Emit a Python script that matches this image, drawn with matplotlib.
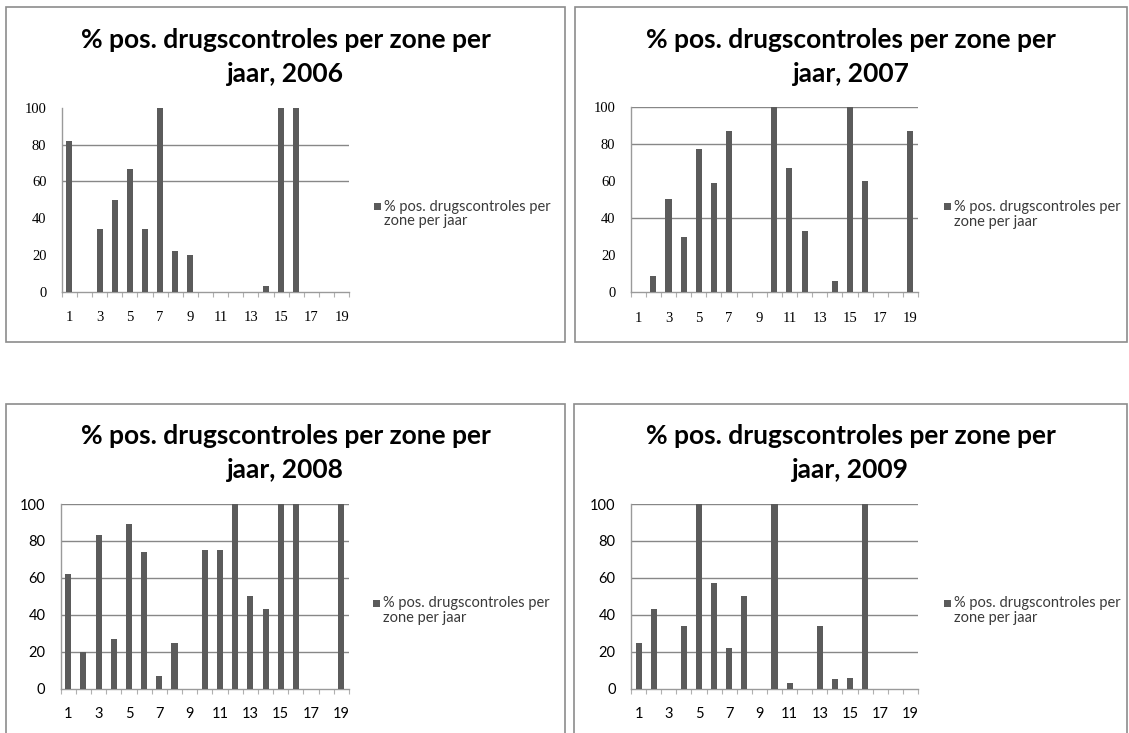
import matplotlib
matplotlib.use("Agg")
import matplotlib.pyplot as plt
from matplotlib.patches import Rectangle
import numpy as np

# ---------------- data ----------------
zones = list(range(1, 20))
tick_labels = [str(z) for z in zones if z % 2 == 1]
years = ["2006", "2007", "2008", "2009"]

pct_2006 = [82, 0, 34, 50, 67, 34, 100, 22, 20, 0, 0, 0, 0, 3, 100, 100, 0, 0, 0]
pct_2007 = [0, 9, 50, 30, 77, 59, 87, 0, 0, 100, 67, 33, 0, 6, 100, 60, 0, 0, 87]
pct_2008 = [62, 20, 83, 27, 89, 74, 7, 25, 0, 75, 75, 100, 50, 43, 100, 100, 0, 0, 100]
pct_2009 = [25, 43, 0, 34, 100, 57, 22, 50, 0, 100, 3, 0, 34, 5, 6, 100, 0, 0, 0]

grid_2006 = [60, 80]
grid_2007 = [40, 80, 100]
grid_2008 = [20, 40, 60, 80, 100]
grid_2009 = [20, 40, 60, 80, 100]

title_line1 = "% pos. drugscontroles per zone per"
title_line2 = "jaar, {}"
legend_line1 = "% pos. drugscontroles per"
legend_line2 = "zone per jaar"

# ---------------- layout ----------------
W, H = 1129, 733
fig = plt.figure(figsize=(W / 100, H / 100), dpi=100)

def fx(x):
    return x / W

def fy(y):
    return 1 - y / H

BAR = "#5b5b5b"
GRID = "#878787"
BORDER = "#8c8c8c"
AXC = "#9a9a9a"

panels = [
    # box(l,t,r,b), axes(l,t,r,b), title line-1 centre y, series, grid, tick font, x pad, legend dx
    ((6, 7, 565, 342), (61.7, 107.7, 349.3, 292.0), 40, pct_2006, grid_2006, "Liberation Serif", years[0], 14, 312),
    ((575, 7, 1127, 342), (630.7, 106.7, 918.0, 292.3), 40, pct_2007, grid_2007, "Liberation Serif", years[1], 14, 313),
    ((6, 404, 565, 760), (60.7, 504.0, 349.0, 688.7), 436, pct_2008, grid_2008, "Lato", years[2], 13, 312),
    ((574, 404, 1127, 760), (631.0, 504.0, 918.0, 688.7), 436, pct_2009, grid_2009, "Lato", years[3], 13, 313),
]

for box, axp, ty, vals, grid, tfont, yr, xpad, ldx in panels:
    bl, bt, br, bb = box
    fig.patches.append(Rectangle((fx(bl), fy(bb)), fx(br - bl), (bb - bt) / H,
                                 transform=fig.transFigure, fill=False,
                                 edgecolor=BORDER, linewidth=1.2, zorder=0))
    cx = (bl + br) / 2
    fig.text(fx(cx), fy(ty), title_line1, ha="center", va="center",
             fontsize=19, fontweight="bold", family="Lato", color="black")
    fig.text(fx(cx), fy(ty + 34), title_line2.format(yr), ha="center", va="center",
             fontsize=19, fontweight="bold", family="Lato", color="black")

    al, at, ar, ab = axp
    ax = fig.add_axes([fx(al), fy(ab), fx(ar - al), (ab - at) / H])
    ax.set_facecolor("none")
    ax.bar(zones, vals, width=0.40, color=BAR, zorder=3)
    ax.set_xlim(0.5, 19.5)
    ax.set_ylim(0, 100)
    for g in grid:
        ax.axhline(g, color=GRID, linewidth=1.0, zorder=1)
    for s in ["top", "right"]:
        ax.spines[s].set_visible(False)
    ax.spines["left"].set_color(AXC)
    ax.spines["bottom"].set_color(AXC)
    ax.spines["left"].set_linewidth(1.0)
    ax.spines["bottom"].set_linewidth(1.0)

    fs = 10.5
    ax.set_yticks([0, 20, 40, 60, 80, 100])
    ax.set_yticklabels(["0", "20", "40", "60", "80", "100"], family=tfont, fontsize=fs)
    ax.tick_params(axis="y", length=0, pad=11)

    ax.set_xticks(np.arange(0.5, 20, 1.0))
    ax.set_xticklabels([])
    ax.tick_params(axis="x", which="major", length=3.5, color="#b0b0b0", direction="out")
    ax.set_xticks([z for z in zones if z % 2 == 1], minor=True)
    ax.set_xticklabels(tick_labels, minor=True, family=tfont, fontsize=fs)
    ax.tick_params(axis="x", which="minor", length=0, pad=xpad)

    # legend (key square aligned with the first text line, as in the original)
    lx, ly = al + ldx, ab - 85.5
    fig.patches.append(Rectangle((fx(lx), fy(ly + 3.5)), fx(7), 7 / H,
                                 transform=fig.transFigure, facecolor=BAR,
                                 edgecolor="none", zorder=3))
    fig.text(fx(lx + 10), fy(ly), legend_line1, ha="left", va="center",
             fontsize=10.5, family="Lato", color="#3a3a3a")
    fig.text(fx(lx + 10), fy(ly + 15), legend_line2, ha="left", va="center",
             fontsize=10.5, family="Lato", color="#3a3a3a")

fig.savefig("out.png", dpi=100, facecolor="white")
